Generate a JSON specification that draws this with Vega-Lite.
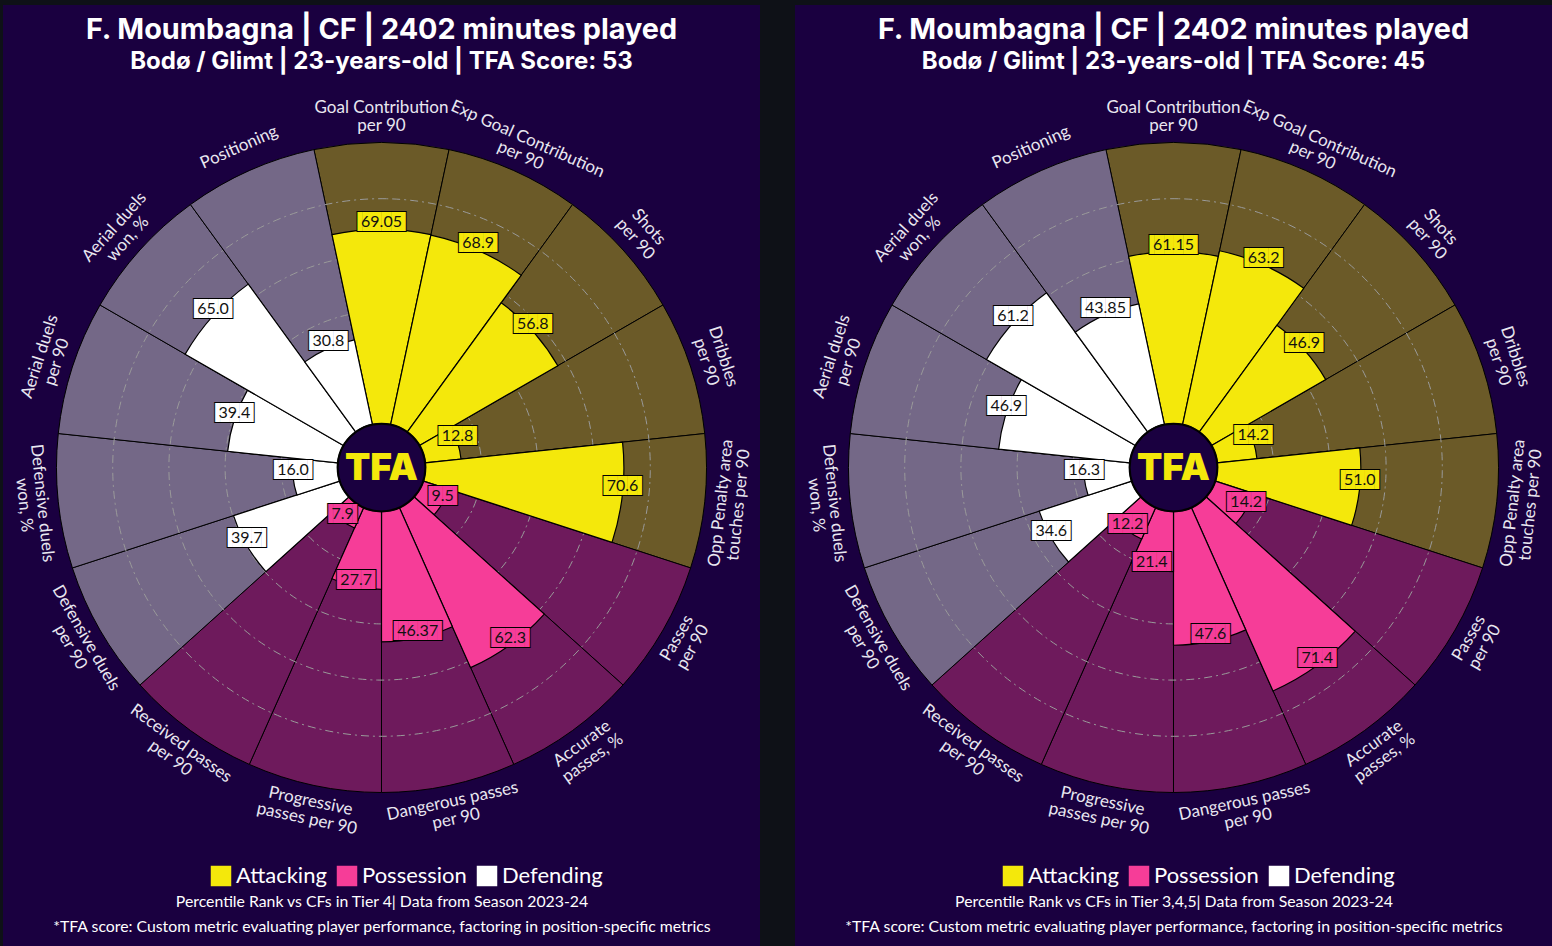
{
  "$schema": "https://vega.github.io/schema/vega-lite/v6.json",
  "background": "#0e1117",
  "padding": {"left": 3, "top": 5, "right": 0, "bottom": 0},
  "spacing": 35,
  "config": {
    "view": {"fill": "#1a0040", "stroke": null},
    "font": "Lato",
    "legend": {"labelFont": "Lato", "titleFont": "Lato"}
  },
  "resolve": {
    "scale": {"color": "independent", "fill": "independent"},
    "legend": {"color": "independent", "fill": "independent"}
  },
  "datasets": {
    "tier4": [
      {"i": 0, "metric": "Goal Contribution\nper 90", "group": "Attacking", "value": 69.05, "label": "69.05"},
      {"i": 1, "metric": "Exp Goal Contribution\nper 90", "group": "Attacking", "value": 68.9, "label": "68.9"},
      {"i": 2, "metric": "Shots\nper 90", "group": "Attacking", "value": 56.8, "label": "56.8"},
      {"i": 3, "metric": "Dribbles\nper 90", "group": "Attacking", "value": 12.8, "label": "12.8"},
      {"i": 4, "metric": "Opp Penalty area\ntouches per 90", "group": "Attacking", "value": 70.6, "label": "70.6"},
      {"i": 5, "metric": "Passes\nper 90", "group": "Possession", "value": 9.5, "label": "9.5"},
      {"i": 6, "metric": "Accurate\npasses, %", "group": "Possession", "value": 62.3, "label": "62.3"},
      {"i": 7, "metric": "Dangerous passes\nper 90", "group": "Possession", "value": 46.37, "label": "46.37"},
      {"i": 8, "metric": "Progressive\npasses per 90", "group": "Possession", "value": 27.7, "label": "27.7"},
      {"i": 9, "metric": "Received passes\nper 90", "group": "Possession", "value": 7.9, "label": "7.9"},
      {"i": 10, "metric": "Defensive duels\nper 90", "group": "Defending", "value": 39.7, "label": "39.7"},
      {"i": 11, "metric": "Defensive duels\nwon, %", "group": "Defending", "value": 16.0, "label": "16.0"},
      {"i": 12, "metric": "Aerial duels\nper 90", "group": "Defending", "value": 39.4, "label": "39.4"},
      {"i": 13, "metric": "Aerial duels\nwon, %", "group": "Defending", "value": 65.0, "label": "65.0"},
      {"i": 14, "metric": "Positioning", "group": "Defending", "value": 30.8, "label": "30.8"}
    ],
    "tier345": [
      {"i": 0, "metric": "Goal Contribution\nper 90", "group": "Attacking", "value": 61.15, "label": "61.15"},
      {"i": 1, "metric": "Exp Goal Contribution\nper 90", "group": "Attacking", "value": 63.2, "label": "63.2"},
      {"i": 2, "metric": "Shots\nper 90", "group": "Attacking", "value": 46.9, "label": "46.9"},
      {"i": 3, "metric": "Dribbles\nper 90", "group": "Attacking", "value": 14.2, "label": "14.2"},
      {"i": 4, "metric": "Opp Penalty area\ntouches per 90", "group": "Attacking", "value": 51.0, "label": "51.0"},
      {"i": 5, "metric": "Passes\nper 90", "group": "Possession", "value": 14.2, "label": "14.2"},
      {"i": 6, "metric": "Accurate\npasses, %", "group": "Possession", "value": 71.4, "label": "71.4"},
      {"i": 7, "metric": "Dangerous passes\nper 90", "group": "Possession", "value": 47.6, "label": "47.6"},
      {"i": 8, "metric": "Progressive\npasses per 90", "group": "Possession", "value": 21.4, "label": "21.4"},
      {"i": 9, "metric": "Received passes\nper 90", "group": "Possession", "value": 12.2, "label": "12.2"},
      {"i": 10, "metric": "Defensive duels\nper 90", "group": "Defending", "value": 34.6, "label": "34.6"},
      {"i": 11, "metric": "Defensive duels\nwon, %", "group": "Defending", "value": 16.3, "label": "16.3"},
      {"i": 12, "metric": "Aerial duels\nper 90", "group": "Defending", "value": 46.9, "label": "46.9"},
      {"i": 13, "metric": "Aerial duels\nwon, %", "group": "Defending", "value": 61.2, "label": "61.2"},
      {"i": 14, "metric": "Positioning", "group": "Defending", "value": 43.85, "label": "43.85"}
    ]
  },
  "hconcat": [
    {
      "width": 757,
      "height": 941,
      "view": {"fill": "#1a0040", "stroke": null},
      "data": {"name": "tier4"},
      "title": {
        "text": "F. Moumbagna | CF | 2402 minutes played",
        "subtitle": "Bodø / Glimt | 23-years-old | TFA Score: 53",
        "anchor": "middle", "frame": "group", "offset": -69,
        "font": "Inter", "fontSize": 28.8, "fontWeight": 700, "color": "#ffffff",
        "subtitleFont": "Inter", "subtitleFontSize": 24, "subtitleFontWeight": 700, "subtitleColor": "#ffffff", "subtitlePadding": 5
      },
      "layer": [
        {
          "mark": {"type": "arc", "stroke": "#000000", "strokeWidth": 1, "yOffset": -8},
          "encoding": {
            "theta": {"field": "i", "type": "ordinal", "scale": {"type": "band", "range": [-0.20944, 6.07375], "paddingInner": 0, "paddingOuter": 0}},
            "radius": {"datum": 100, "type": "quantitative", "scale": {"type": "linear", "domain": [0, 100], "range": [44, 325], "zero": false}},
            "radius2": {"datum": 0},
            "fill": {"field": "group", "type": "nominal", "scale": {"range": ["#6b5a28", "#746887", "#6e1a5c"]},
              "legend": {"orient": "none", "legendX": 50, "legendY": 890, "direction": "horizontal", "padding": 0,
                "title": ["Percentile Rank vs CFs in Tier 4| Data from Season 2023-24", "*TFA score: Custom metric evaluating player performance, factoring in position-specific metrics"],
                "titleFontSize": 15.8, "titleFontWeight": "normal", "titleColor": "#ffffff", "titleAnchor": "middle", "titleAlign": "center", "titleLineHeight": 25, "titleLimit": 2000, "titlePadding": 0,
                "symbolOpacity": 0, "labelOpacity": 0, "symbolSize": 1, "labelFontSize": 1}}
          }
        },
        {
          "data": {"values": [{"level": 20}, {"level": 40}, {"level": 60}, {"level": 80}]},
          "mark": {"type": "arc", "filled": false, "stroke": "#9a9a9a", "strokeWidth": 1, "strokeDash": [8, 4, 2, 4], "yOffset": -8},
          "encoding": {
            "theta": {"value": 6.3},
            "theta2": {"value": 0},
            "radius": {"field": "level", "type": "quantitative", "scale": {"type": "linear", "domain": [0, 100], "range": [44, 325], "zero": false}},
            "radius2": {"datum": 0}
          }
        },
        {
          "mark": {"type": "arc", "stroke": "#000000", "strokeWidth": 1.2, "yOffset": -8},
          "encoding": {
            "theta": {"field": "i", "type": "ordinal"},
            "radius": {"field": "value", "type": "quantitative"},
            "radius2": {"datum": 0},
            "color": {"field": "group", "type": "nominal", "scale": {"domain": ["Attacking", "Possession", "Defending"], "range": ["#f4e80b", "#f63d98", "#ffffff"]},
              "legend": {"orient": "none", "legendX": 207, "legendY": 860, "direction": "horizontal", "padding": 0, "title": null,
                "symbolType": "square", "symbolSize": 420, "symbolStrokeWidth": 0, "labelFontSize": 22, "labelColor": "#ffffff", "labelOffset": 4, "columnPadding": 9}}
          }
        },
        {
          "data": {"values": [{"logo": "TFA"}]},
          "mark": {"type": "point", "shape": "circle", "filled": true, "size": 7700, "fill": "#1a0040", "stroke": "#000000", "strokeWidth": 2, "opacity": 1, "yOffset": -8},
          "encoding": {}
        },
        {
          "data": {"values": [{"logo": "TFA"}]},
          "mark": {"type": "text", "font": "Inter", "fontSize": 37, "fontWeight": 900, "fill": "#f4e80b", "align": "center", "baseline": "middle", "yOffset": -7},
          "encoding": {"text": {"field": "logo"}}
        },
        {
          "mark": {"type": "text", "font": "DejaVu Sans Mono", "fontSize": 16, "stroke": "#000000", "strokeWidth": 2, "align": "center", "baseline": "middle", "dy": -7, "yOffset": -8},
          "encoding": {
            "theta": {"field": "i", "type": "ordinal", "bandPosition": 0.5},
            "radius": {"field": "value", "type": "quantitative"},
            "color": {"field": "group", "type": "nominal"},
            "text": {"condition": [{"test": "length(datum.label) >= 5", "value": "▐████▌"}, {"test": "length(datum.label) == 4", "value": "▐███▌"}], "value": "▐██▌"}
          }
        },
        {
          "mark": {"type": "text", "font": "DejaVu Sans Mono", "fontSize": 16, "align": "center", "baseline": "middle", "dy": -7, "yOffset": -8},
          "encoding": {
            "theta": {"field": "i", "type": "ordinal", "bandPosition": 0.5},
            "radius": {"field": "value", "type": "quantitative"},
            "color": {"field": "group", "type": "nominal"},
            "text": {"condition": [{"test": "length(datum.label) >= 5", "value": "▐████▌"}, {"test": "length(datum.label) == 4", "value": "▐███▌"}], "value": "▐██▌"}
          }
        },
        {
          "mark": {"type": "text", "fontSize": 16, "fill": "#111111", "align": "center", "baseline": "middle", "dy": -7, "yOffset": -8},
          "encoding": {
            "theta": {"field": "i", "type": "ordinal", "bandPosition": 0.5},
            "radius": {"field": "value", "type": "quantitative"},
            "text": {"field": "label"}
          }
        },
        {
          "transform": [{"filter": "indexof(datum.metric, '\\n') >= 0"}],
          "mark": {"type": "text", "fontSize": 17, "fill": "#e9e7f0", "align": "center", "baseline": "middle", "lineBreak": "\n", "lineHeight": 18, "dy": -9, "yOffset": -8},
          "encoding": {
            "theta": {"field": "i", "type": "ordinal", "bandPosition": 0.5},
            "radius": {"datum": 109},
            "angle": {"field": "i", "type": "quantitative", "scale": {"type": "threshold", "domain": [0.5, 1.5, 2.5, 3.5, 4.5, 5.5, 6.5, 7.5, 8.5, 9.5, 10.5, 11.5, 12.5, 13.5], "range": [0, 24, 48, 72, -84, -60, -36, -12, 12, 36, 60, 84, -72, -48, -24]}, "legend": null},
            "text": {"field": "metric"}
          }
        },
        {
          "transform": [{"filter": "indexof(datum.metric, '\\n') < 0"}],
          "mark": {"type": "text", "fontSize": 17, "fill": "#e9e7f0", "align": "center", "baseline": "middle", "yOffset": -8},
          "encoding": {
            "theta": {"field": "i", "type": "ordinal", "bandPosition": 0.5},
            "radius": {"datum": 109},
            "angle": {"field": "i", "type": "quantitative", "scale": {"type": "threshold", "domain": [0.5, 1.5, 2.5, 3.5, 4.5, 5.5, 6.5, 7.5, 8.5, 9.5, 10.5, 11.5, 12.5, 13.5], "range": [0, 24, 48, 72, -84, -60, -36, -12, 12, 36, 60, 84, -72, -48, -24]}, "legend": null},
            "text": {"field": "metric"}
          }
        }
      ]
    },
    {
      "width": 757,
      "height": 941,
      "view": {"fill": "#1a0040", "stroke": null},
      "data": {"name": "tier345"},
      "title": {
        "text": "F. Moumbagna | CF | 2402 minutes played",
        "subtitle": "Bodø / Glimt | 23-years-old | TFA Score: 45",
        "anchor": "middle", "frame": "group", "offset": -69,
        "font": "Inter", "fontSize": 28.8, "fontWeight": 700, "color": "#ffffff",
        "subtitleFont": "Inter", "subtitleFontSize": 24, "subtitleFontWeight": 700, "subtitleColor": "#ffffff", "subtitlePadding": 5
      },
      "layer": [
        {
          "mark": {"type": "arc", "stroke": "#000000", "strokeWidth": 1, "yOffset": -8},
          "encoding": {
            "theta": {"field": "i", "type": "ordinal", "scale": {"type": "band", "range": [-0.20944, 6.07375], "paddingInner": 0, "paddingOuter": 0}},
            "radius": {"datum": 100, "type": "quantitative", "scale": {"type": "linear", "domain": [0, 100], "range": [44, 325], "zero": false}},
            "radius2": {"datum": 0},
            "fill": {"field": "group", "type": "nominal", "scale": {"range": ["#6b5a28", "#746887", "#6e1a5c"]},
              "legend": {"orient": "none", "legendX": 50, "legendY": 890, "direction": "horizontal", "padding": 0,
                "title": ["Percentile Rank vs CFs in Tier 3,4,5| Data from Season 2023-24", "*TFA score: Custom metric evaluating player performance, factoring in position-specific metrics"],
                "titleFontSize": 15.8, "titleFontWeight": "normal", "titleColor": "#ffffff", "titleAnchor": "middle", "titleAlign": "center", "titleLineHeight": 25, "titleLimit": 2000, "titlePadding": 0,
                "symbolOpacity": 0, "labelOpacity": 0, "symbolSize": 1, "labelFontSize": 1}}
          }
        },
        {
          "data": {"values": [{"level": 20}, {"level": 40}, {"level": 60}, {"level": 80}]},
          "mark": {"type": "arc", "filled": false, "stroke": "#9a9a9a", "strokeWidth": 1, "strokeDash": [8, 4, 2, 4], "yOffset": -8},
          "encoding": {
            "theta": {"value": 6.3},
            "theta2": {"value": 0},
            "radius": {"field": "level", "type": "quantitative", "scale": {"type": "linear", "domain": [0, 100], "range": [44, 325], "zero": false}},
            "radius2": {"datum": 0}
          }
        },
        {
          "mark": {"type": "arc", "stroke": "#000000", "strokeWidth": 1.2, "yOffset": -8},
          "encoding": {
            "theta": {"field": "i", "type": "ordinal"},
            "radius": {"field": "value", "type": "quantitative"},
            "radius2": {"datum": 0},
            "color": {"field": "group", "type": "nominal", "scale": {"domain": ["Attacking", "Possession", "Defending"], "range": ["#f4e80b", "#f63d98", "#ffffff"]},
              "legend": {"orient": "none", "legendX": 207, "legendY": 860, "direction": "horizontal", "padding": 0, "title": null,
                "symbolType": "square", "symbolSize": 420, "symbolStrokeWidth": 0, "labelFontSize": 22, "labelColor": "#ffffff", "labelOffset": 4, "columnPadding": 9}}
          }
        },
        {
          "data": {"values": [{"logo": "TFA"}]},
          "mark": {"type": "point", "shape": "circle", "filled": true, "size": 7700, "fill": "#1a0040", "stroke": "#000000", "strokeWidth": 2, "opacity": 1, "yOffset": -8},
          "encoding": {}
        },
        {
          "data": {"values": [{"logo": "TFA"}]},
          "mark": {"type": "text", "font": "Inter", "fontSize": 37, "fontWeight": 900, "fill": "#f4e80b", "align": "center", "baseline": "middle", "yOffset": -7},
          "encoding": {"text": {"field": "logo"}}
        },
        {
          "mark": {"type": "text", "font": "DejaVu Sans Mono", "fontSize": 16, "stroke": "#000000", "strokeWidth": 2, "align": "center", "baseline": "middle", "dy": -7, "yOffset": -8},
          "encoding": {
            "theta": {"field": "i", "type": "ordinal", "bandPosition": 0.5},
            "radius": {"field": "value", "type": "quantitative"},
            "color": {"field": "group", "type": "nominal"},
            "text": {"condition": [{"test": "length(datum.label) >= 5", "value": "▐████▌"}, {"test": "length(datum.label) == 4", "value": "▐███▌"}], "value": "▐██▌"}
          }
        },
        {
          "mark": {"type": "text", "font": "DejaVu Sans Mono", "fontSize": 16, "align": "center", "baseline": "middle", "dy": -7, "yOffset": -8},
          "encoding": {
            "theta": {"field": "i", "type": "ordinal", "bandPosition": 0.5},
            "radius": {"field": "value", "type": "quantitative"},
            "color": {"field": "group", "type": "nominal"},
            "text": {"condition": [{"test": "length(datum.label) >= 5", "value": "▐████▌"}, {"test": "length(datum.label) == 4", "value": "▐███▌"}], "value": "▐██▌"}
          }
        },
        {
          "mark": {"type": "text", "fontSize": 16, "fill": "#111111", "align": "center", "baseline": "middle", "dy": -7, "yOffset": -8},
          "encoding": {
            "theta": {"field": "i", "type": "ordinal", "bandPosition": 0.5},
            "radius": {"field": "value", "type": "quantitative"},
            "text": {"field": "label"}
          }
        },
        {
          "transform": [{"filter": "indexof(datum.metric, '\\n') >= 0"}],
          "mark": {"type": "text", "fontSize": 17, "fill": "#e9e7f0", "align": "center", "baseline": "middle", "lineBreak": "\n", "lineHeight": 18, "dy": -9, "yOffset": -8},
          "encoding": {
            "theta": {"field": "i", "type": "ordinal", "bandPosition": 0.5},
            "radius": {"datum": 109},
            "angle": {"field": "i", "type": "quantitative", "scale": {"type": "threshold", "domain": [0.5, 1.5, 2.5, 3.5, 4.5, 5.5, 6.5, 7.5, 8.5, 9.5, 10.5, 11.5, 12.5, 13.5], "range": [0, 24, 48, 72, -84, -60, -36, -12, 12, 36, 60, 84, -72, -48, -24]}, "legend": null},
            "text": {"field": "metric"}
          }
        },
        {
          "transform": [{"filter": "indexof(datum.metric, '\\n') < 0"}],
          "mark": {"type": "text", "fontSize": 17, "fill": "#e9e7f0", "align": "center", "baseline": "middle", "yOffset": -8},
          "encoding": {
            "theta": {"field": "i", "type": "ordinal", "bandPosition": 0.5},
            "radius": {"datum": 109},
            "angle": {"field": "i", "type": "quantitative", "scale": {"type": "threshold", "domain": [0.5, 1.5, 2.5, 3.5, 4.5, 5.5, 6.5, 7.5, 8.5, 9.5, 10.5, 11.5, 12.5, 13.5], "range": [0, 24, 48, 72, -84, -60, -36, -12, 12, 36, 60, 84, -72, -48, -24]}, "legend": null},
            "text": {"field": "metric"}
          }
        }
      ]
    }
  ]
}
